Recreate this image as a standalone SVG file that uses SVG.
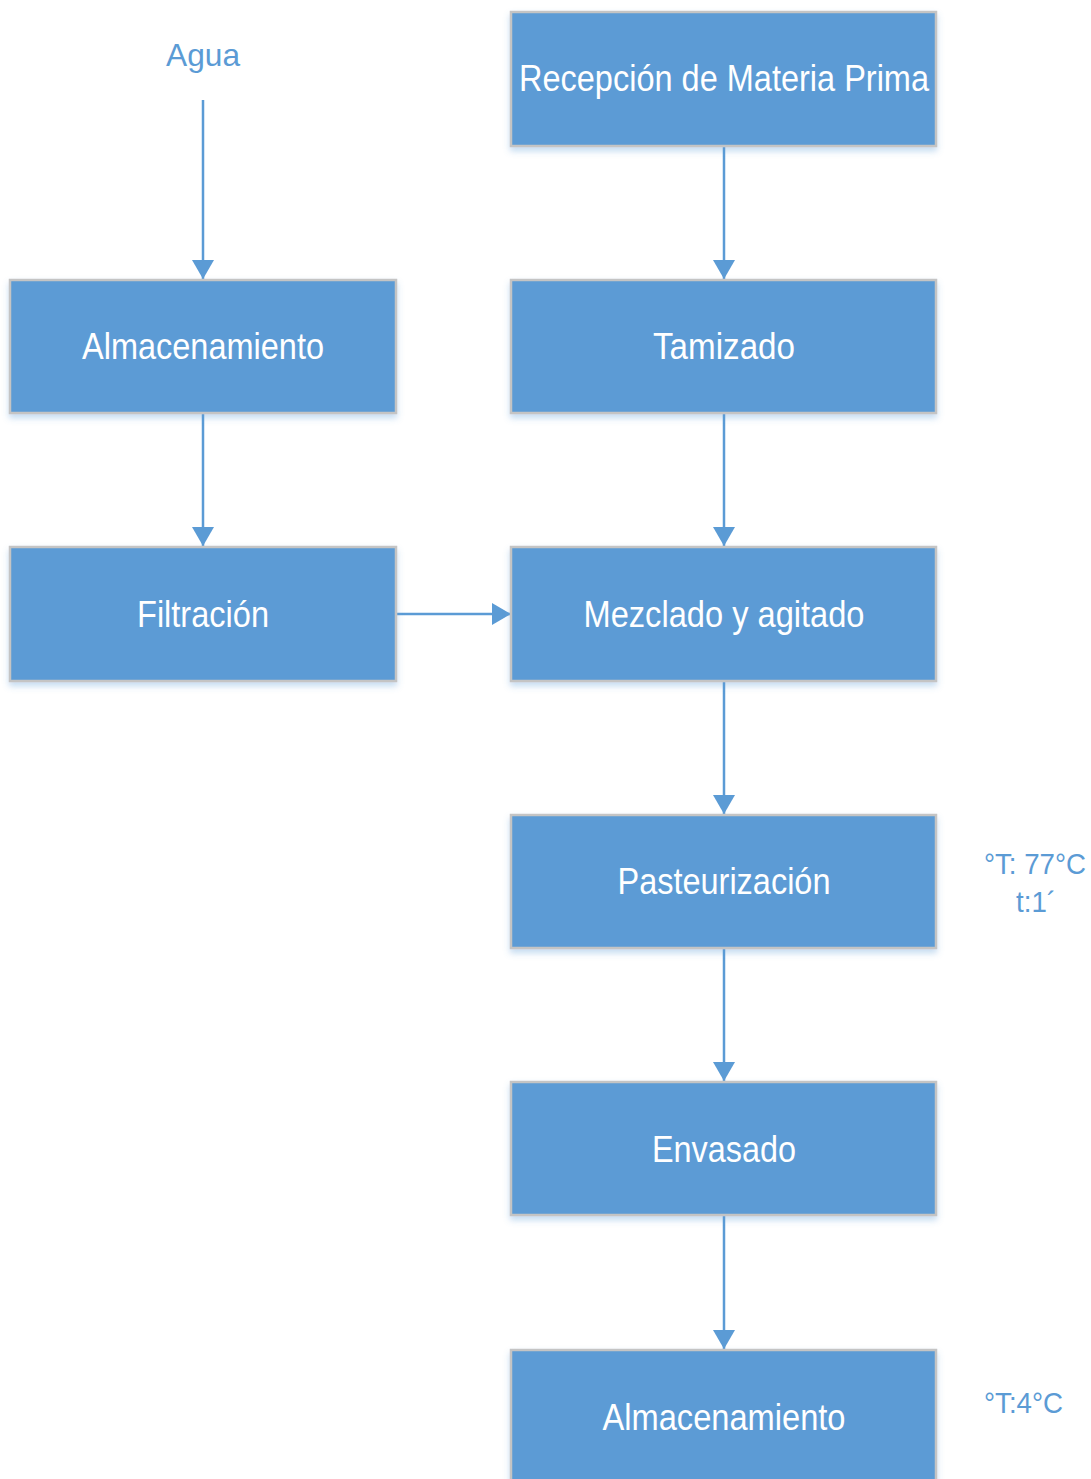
<svg xmlns="http://www.w3.org/2000/svg" width="1091" height="1479" viewBox="0 0 1091 1479">
<style>
.box{fill:#5B9BD5;stroke:#C4C4C4;stroke-width:2.5;filter:url(#sh)}
.lbl{font-family:"Liberation Sans",Arial,sans-serif;font-size:36px;fill:#FFFFFF;text-anchor:middle}
.note{font-family:"Liberation Sans",Arial,sans-serif;fill:#5B9BD5}
.conn{stroke:#5B9BD5;stroke-width:2.5;fill:none;marker-end:url(#ah)}
</style>
<defs>
<filter id="sh" x="-10%" y="-10%" width="120%" height="130%">
<feGaussianBlur in="SourceAlpha" stdDeviation="3"/>
<feOffset dx="0" dy="4" result="b"/>
<feFlood flood-color="#5B9BD5" flood-opacity="0.35"/>
<feComposite in2="b" operator="in"/>
<feMerge><feMergeNode/><feMergeNode in="SourceGraphic"/></feMerge>
</filter>
<marker id="ah" markerUnits="userSpaceOnUse" markerWidth="20" markerHeight="22" refX="19" refY="11" orient="auto">
<path d="M0,0 L19,11 L0,22 Z" fill="#5B9BD5"/>
</marker>
</defs>
<g id="connectors">
<line class="conn" x1="203" y1="100" x2="203" y2="279"/>
<line class="conn" x1="203" y1="413" x2="203" y2="546"/>
<line class="conn" x1="396" y1="614" x2="511" y2="614"/>
<line class="conn" x1="724" y1="146" x2="724" y2="279"/>
<line class="conn" x1="724" y1="413" x2="724" y2="546"/>
<line class="conn" x1="724" y1="681" x2="724" y2="814"/>
<line class="conn" x1="724" y1="948" x2="724" y2="1081"/>
<line class="conn" x1="724" y1="1215" x2="724" y2="1349"/>
</g>
<g id="agua"><text class="note" x="203" y="66" font-size="32" text-anchor="middle" textLength="74" lengthAdjust="spacingAndGlyphs">Agua</text></g>
<g id="n1"><rect class="box" x="511" y="12" width="425" height="134"/><text class="lbl" x="724" y="91" textLength="410" lengthAdjust="spacingAndGlyphs">Recepción de Materia Prima</text></g>
<g id="n2"><rect class="box" x="10" y="280" width="386" height="133"/><text class="lbl" x="203" y="359" textLength="242" lengthAdjust="spacingAndGlyphs">Almacenamiento</text></g>
<g id="n3"><rect class="box" x="511" y="280" width="425" height="133"/><text class="lbl" x="724" y="359" textLength="142" lengthAdjust="spacingAndGlyphs">Tamizado</text></g>
<g id="n4"><rect class="box" x="10" y="547" width="386" height="134"/><text class="lbl" x="203" y="627" textLength="132" lengthAdjust="spacingAndGlyphs">Filtración</text></g>
<g id="n5"><rect class="box" x="511" y="547" width="425" height="134"/><text class="lbl" x="724" y="627" textLength="281" lengthAdjust="spacingAndGlyphs">Mezclado y agitado</text></g>
<g id="n6"><rect class="box" x="511" y="815" width="425" height="133"/><text class="lbl" x="724" y="894" textLength="213" lengthAdjust="spacingAndGlyphs">Pasteurización</text></g>
<g id="n7"><rect class="box" x="511" y="1082" width="425" height="133"/><text class="lbl" x="724" y="1162" textLength="144" lengthAdjust="spacingAndGlyphs">Envasado</text></g>
<g id="n8"><rect class="box" x="511" y="1350" width="425" height="140"/><text class="lbl" x="724" y="1430" textLength="243" lengthAdjust="spacingAndGlyphs">Almacenamiento</text></g>
<g id="note1"><text class="note" x="984" y="874" font-size="29" textLength="102" lengthAdjust="spacingAndGlyphs">°T: 77°C</text><text class="note" x="1016" y="912" font-size="29" textLength="40" lengthAdjust="spacingAndGlyphs">t:1´</text></g>
<g id="note2"><text class="note" x="984" y="1413" font-size="29" textLength="79" lengthAdjust="spacingAndGlyphs">°T:4°C</text></g>
</svg>
